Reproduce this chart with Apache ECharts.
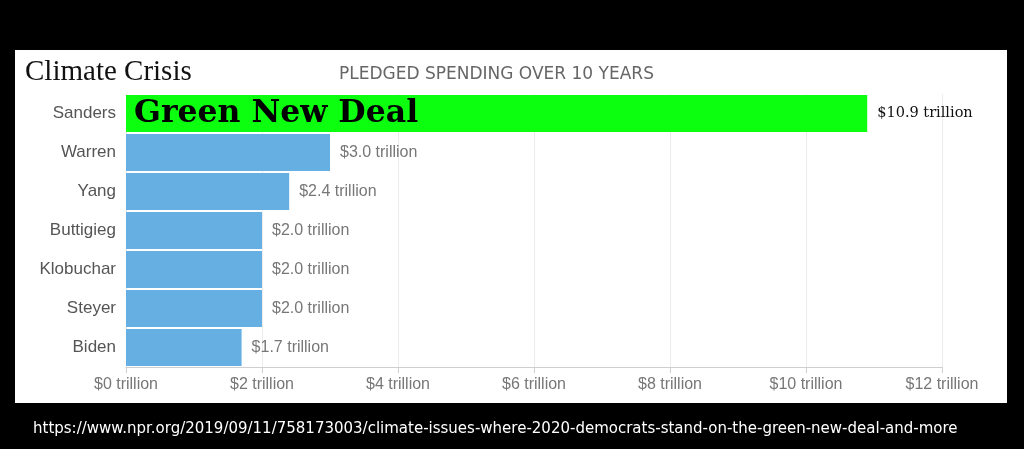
<!DOCTYPE html>
<html>
<head>
<meta charset="utf-8">
<style>
  html, body { margin: 0; padding: 0; background: #000; }
  #chart { width: 1024px; height: 449px; }
</style>
<script src="https://cdn.jsdelivr.net/npm/echarts@6/dist/echarts.min.js"></script>
</head>
<body>
<div id="chart"></div>
<script>
// candidates, top to bottom
var candidates = ['Sanders', 'Warren', 'Yang', 'Buttigieg', 'Klobuchar', 'Steyer', 'Biden'];
// pledged spending, trillions of dollars
var spending = [10.9, 3.0, 2.4, 2.0, 2.0, 2.0, 1.7];
var highlight = 'Sanders';
var highlightNote = 'Green New Deal';
var axisTicks = [0, 2, 4, 6, 8, 10, 12];

var chart = echarts.init(document.getElementById('chart'));

// echarts draws category axis bottom-up, so reverse
var cats = candidates.slice().reverse();
var vals = spending.slice().reverse();

var barData = vals.map(function (v, i) {
    if (cats[i] === highlight) {
        return {
            value: v,
            itemStyle: { color: '#0bff0f' },
            label: { fontFamily: 'DejaVu Serif', color: '#111', fontSize: 14.5 }
        };
    }
    return v;
});
var noteData = vals.map(function (v, i) {
    return cats[i] === highlight ? v : '-';
});

var option = {
    backgroundColor: '#000',
    animation: false,
    graphic: [
        { type: 'rect', left: 15, top: 50, shape: { width: 992, height: 353 }, style: { fill: '#fff' }, z: -10 },
        { type: 'text', left: 25, top: 58, style: { text: 'Climate Crisis', fontFamily: 'Liberation Serif', fontSize: 29, fill: '#111' } },
        { type: 'text', left: 339, top: 66, style: { text: 'PLEDGED SPENDING OVER 10 YEARS', fontFamily: 'DejaVu Sans', fontSize: 17, fontWeight: 500, fill: '#666' } },
        { type: 'text', left: 33, top: 422, style: { text: 'https://www.npr.org/2019/09/11/758173003/climate-issues-where-2020-democrats-stand-on-the-green-new-deal-and-more', fontFamily: 'DejaVu Sans', fontSize: 15, fill: '#fff' } }
    ],
    grid: { left: 126, right: 82, top: 94, bottom: 82 },
    xAxis: {
        type: 'value',
        min: axisTicks[0],
        max: axisTicks[axisTicks.length - 1],
        interval: 2,
        axisLine: { show: true, lineStyle: { color: '#cfcfcf' } },
        axisTick: { show: true, length: 6, lineStyle: { color: '#cfcfcf' } },
        splitLine: { show: true, lineStyle: { color: '#ececec' } },
        axisLabel: {
            color: '#777', fontSize: 16, fontFamily: 'Liberation Sans', margin: 10,
            formatter: function (v) { return '$' + v + ' trillion'; }
        }
    },
    yAxis: {
        type: 'category',
        data: cats,
        axisLine: { show: false },
        axisTick: { show: false },
        axisLabel: { color: '#555', fontSize: 17, fontFamily: 'Liberation Sans', margin: 10 }
    },
    series: [
        {
            type: 'bar',
            data: barData,
            barCategoryGap: '5%',
            itemStyle: { color: '#65afe2' },
            label: {
                show: true,
                position: 'right',
                distance: 10,
                color: '#777',
                fontSize: 16,
                fontFamily: 'Liberation Sans',
                formatter: function (p) { return '$' + p.value.toFixed(1) + ' trillion'; }
            }
        },
        {
            type: 'bar',
            data: noteData,
            barGap: '-100%',
            barCategoryGap: '5%',
            itemStyle: { color: 'transparent' },
            silent: true,
            label: {
                show: true,
                position: 'insideLeft',
                distance: 8,
                color: '#000',
                fontSize: 31.5,
                fontWeight: 'bold',
                fontFamily: 'DejaVu Serif',
                formatter: function () { return highlightNote; }
            }
        }
    ]
};

chart.setOption(option);
</script>
</body>
</html>
